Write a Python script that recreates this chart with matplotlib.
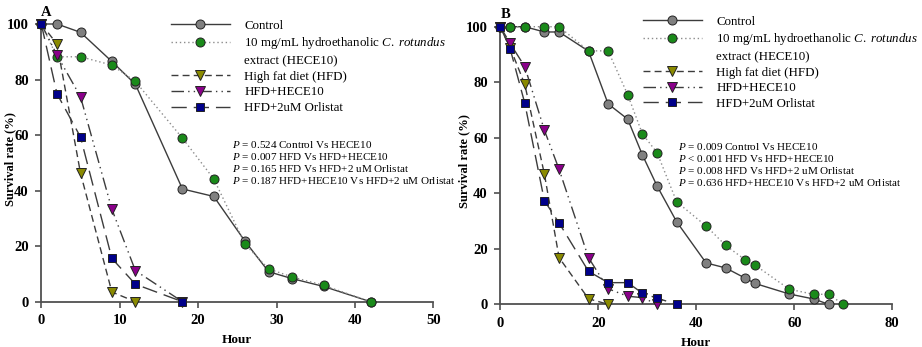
import matplotlib
matplotlib.use("Agg")
import matplotlib.pyplot as plt
from matplotlib.lines import Line2D

plt.rcParams["font.family"] = "Liberation Serif"
plt.rcParams["mathtext.fontset"] = "custom"
plt.rcParams["mathtext.rm"] = "Liberation Serif"
plt.rcParams["mathtext.it"] = "Liberation Serif:italic"

# ---- Panel A data (hours, survival %) ----
a_ctrl_x = [0, 2, 5, 9, 12, 18, 22, 26, 29, 32, 36, 42]
a_ctrl_y = [100, 100, 97, 86.5, 78.3, 40.6, 37.9, 21.7, 10.8, 8.3, 5.5, 0]
a_hece_x = [0, 2, 5, 9, 12, 18, 22, 26, 29, 32, 36, 42]
a_hece_y = [100, 88.2, 88.2, 85.2, 79.3, 58.9, 44.2, 20.7, 11.8, 8.9, 5.9, 0]
a_hfd_x = [0, 2, 5, 9, 12]
a_hfd_y = [100, 92.8, 46.3, 3.5, 0]
a_hfdhece_x = [0, 2, 5, 9, 12, 18]
a_hfdhece_y = [100, 88.8, 73.8, 33.3, 11.2, 0]
a_orl_x = [0, 2, 5, 9, 12, 18]
a_orl_y = [100, 74.9, 59.3, 15.6, 6.3, 0]

# ---- Panel B data ----
b_ctrl_x = [0, 2, 5, 9, 12, 18, 22, 26, 29, 32, 36, 42, 46, 50, 52, 59, 64, 67]
b_ctrl_y = [100, 100, 100, 98.1, 98.1, 91.2, 72.2, 66.7, 53.8, 42.6, 29.7, 14.9, 13.1, 9.4, 7.5, 3.7, 1.9, 0]
b_hece_x = [0, 2, 5, 9, 12, 18, 22, 26, 29, 32, 36, 42, 46, 50, 52, 59, 64, 67, 70]
b_hece_y = [100, 100, 100, 100, 100, 91.3, 91.3, 75.5, 61.4, 54.6, 36.9, 28.2, 21.2, 16.0, 14.1, 5.4, 3.6, 3.6, 0]
b_hfd_x = [0, 2, 5, 9, 12, 18, 22]
b_hfd_y = [100, 92.5, 79.2, 46.9, 16.8, 2.0, 0]
b_hfdhece_x = [0, 2, 5, 9, 12, 18, 22, 26, 29, 32]
b_hfdhece_y = [100, 94.0, 85.6, 62.7, 48.6, 16.8, 5.6, 2.9, 2.4, 0]
b_orl_x = [0, 2, 5, 9, 12, 18, 22, 26, 29, 32, 36]
b_orl_y = [100, 92.1, 72.4, 37.3, 29.3, 11.9, 7.8, 7.8, 4.0, 2.2, 0]

labels = ["Control",
          "10 mg/mL hydroethanolic $\\it{C.\\ rotundus}$",
          "extract (HECE10)",
          "High fat diet (HFD)",
          "HFD+HECE10",
          "HFD+2uM Orlistat"]

a_pvals = ["$\\it{P}$ = 0.524 Control Vs HECE10",
           "$\\it{P}$ = 0.007 HFD Vs HFD+HECE10",
           "$\\it{P}$ = 0.165 HFD Vs HFD+2 uM Orlistat",
           "$\\it{P}$ = 0.187 HFD+HECE10 Vs HFD+2 uM Orlistat"]
b_pvals = ["$\\it{P}$ = 0.009 Control Vs HECE10",
           "$\\it{P}$ < 0.001 HFD Vs HFD+HECE10",
           "$\\it{P}$ = 0.008 HFD Vs HFD+2 uM Orlistat",
           "$\\it{P}$ = 0.636 HFD+HECE10 Vs HFD+2 uM Orlistat"]

# line / marker styles per series: (line colour, dashes, marker, face colour, size)
STYLES = [
    ("#3c3c3c", None, "o", "#808080", 6.5),
    ("#8c8c8c", (1, 2), "o", "#1a8a1a", 6.5),
    ("#3c3c3c", (5, 3), "v", "#8a8a00", 6.5),
    ("#3c3c3c", (9, 3, 1, 3, 1, 3), "v", "#8a008a", 6.5),
    ("#3c3c3c", (11, 5), "s", "#00008a", 5.5),
]


def draw_panel(ax, series, xmax, xstep, pvals, letter, ylab_x, leg_x, leg_y, p_x, p_y):
    handles = []
    for (xs, ys), (lc, dash, mk, fc, ms) in zip(series, STYLES):
        ln, = ax.plot(xs, ys, color=lc, lw=1.0, marker=mk, markersize=ms,
                      markerfacecolor=fc, markeredgecolor="#222222",
                      markeredgewidth=0.7, clip_on=False, zorder=3)
        if dash is not None:
            ln.set_dashes(dash)
        handles.append(ln)
    # second line of the HECE10 label gets an empty handle
    handles.insert(2, Line2D([], [], color="none"))

    ax.set_xlim(0, xmax)
    ax.set_ylim(0, 100)
    ax.set_xticks(range(0, xmax + 1, xstep))
    ax.set_yticks(range(0, 101, 20))
    for s in ("top", "right"):
        ax.spines[s].set_visible(False)
    for s in ("left", "bottom"):
        ax.spines[s].set_color("#505050")
        ax.spines[s].set_linewidth(1.3)
    ax.tick_params(direction="out", length=4, width=1.2, color="#505050",
                   labelsize=10.5, pad=5)
    for t in ax.get_xticklabels() + ax.get_yticklabels():
        t.set_fontweight("bold")
    ax.set_xlabel("Hour", fontsize=9.5, fontweight="bold", labelpad=5)
    ax.set_ylabel("Survival rate (%)", fontsize=9, fontweight="bold")
    ax.yaxis.set_label_coords(ylab_x, 0.515)
    ax.text(0.0, 1.043, letter, transform=ax.transAxes, fontsize=10.5,
            fontweight="bold", ha="left", va="center")

    ax.legend(handles, labels, loc="upper left", bbox_to_anchor=(leg_x, leg_y),
              frameon=False, fontsize=9.3, handlelength=4.6, handletextpad=1.1,
              labelspacing=0.28, borderaxespad=0, borderpad=0)

    ax.text(p_x, p_y, "\n".join(pvals), transform=ax.transAxes, fontsize=8,
            ha="left", va="top", linespacing=1.1)


fig = plt.figure(figsize=(9.22, 3.47), dpi=100)
fig.patch.set_facecolor("white")

ax_a = fig.add_axes([41.3 / 922, 1 - 301.7 / 347, 392 / 922, 277.7 / 347])
ax_b = fig.add_axes([500.3 / 922, 1 - 304.3 / 347, 392 / 922, 277.6 / 347])

draw_panel(ax_a,
           [(a_ctrl_x, a_ctrl_y), (a_hece_x, a_hece_y), (a_hfd_x, a_hfd_y),
            (a_hfdhece_x, a_hfdhece_y), (a_orl_x, a_orl_y)],
           50, 10, a_pvals, "A", -0.065, 0.33, 1.015, 0.487, 0.586)
draw_panel(ax_b,
           [(b_ctrl_x, b_ctrl_y), (b_hece_x, b_hece_y), (b_hfd_x, b_hfd_y),
            (b_hfdhece_x, b_hfdhece_y), (b_orl_x, b_orl_y)],
           80, 20, b_pvals, "B", -0.077, 0.363, 1.04, 0.454, 0.588)

fig.savefig("out.png", dpi=100)
